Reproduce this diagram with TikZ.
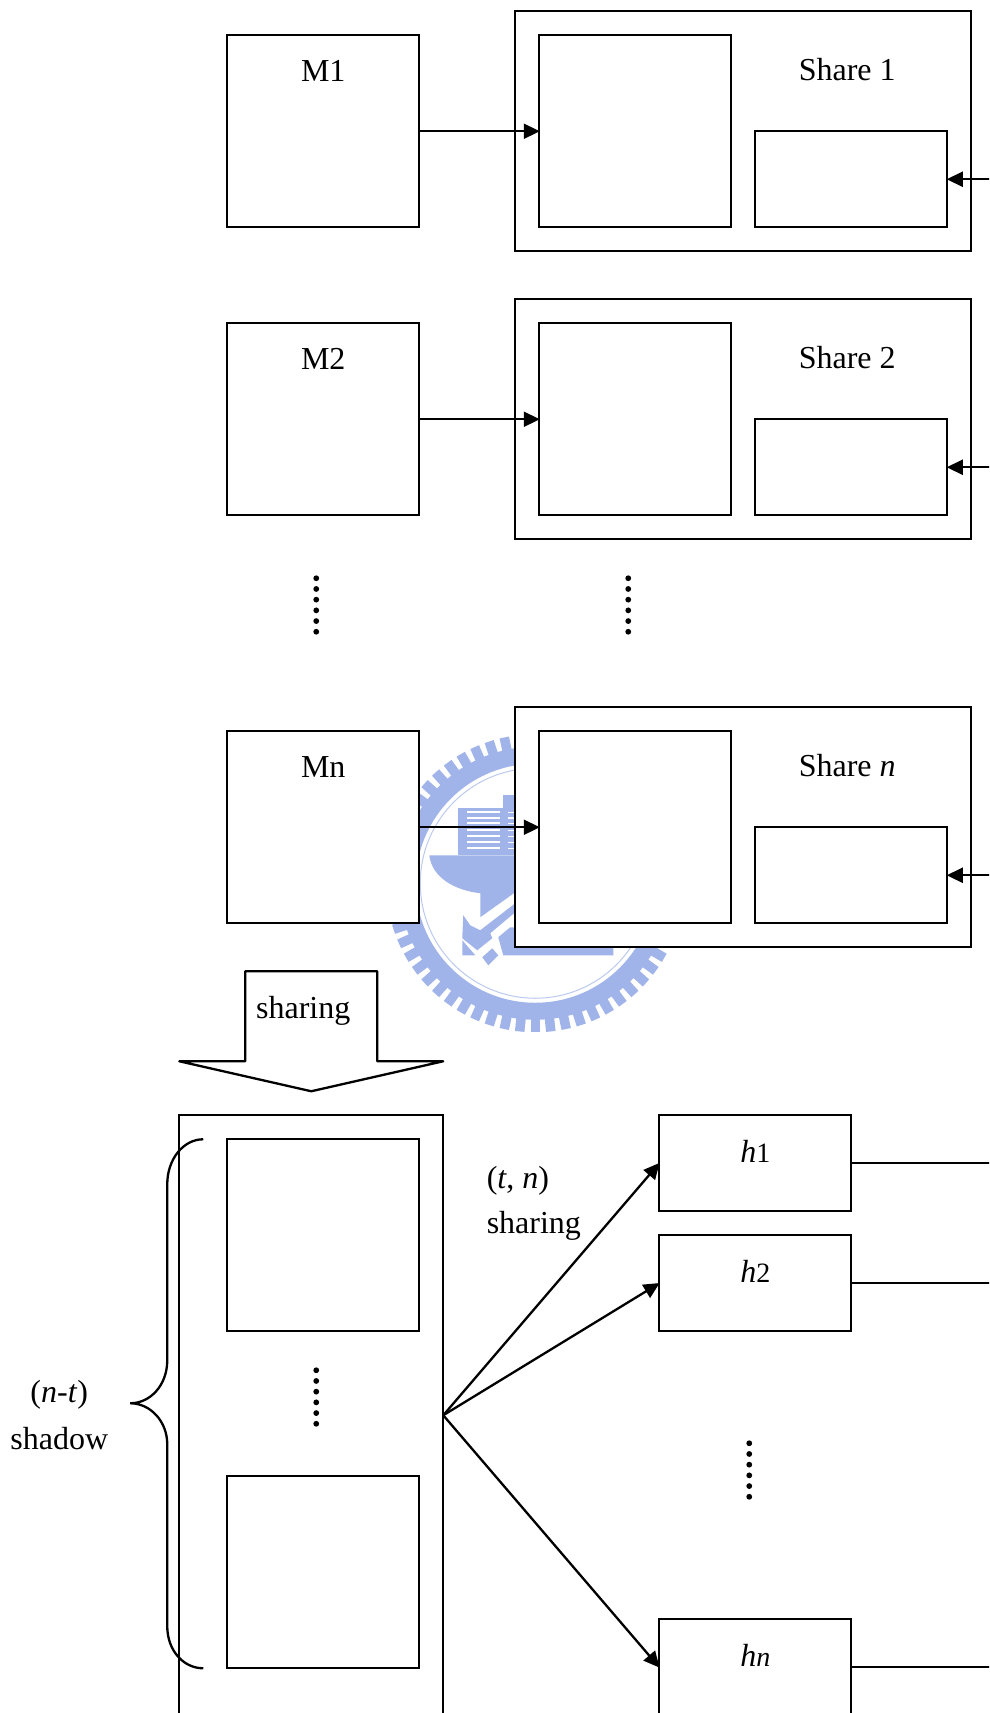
\documentclass[tikz,border=0pt]{standalone}
\usepackage{fontspec}
\setmainfont{Liberation Serif}
\usetikzlibrary{arrows.meta}
\definecolor{wm}{RGB}{160,180,233}
\tikzset{
  boxn/.style={draw=black,fill=white,line width=2.3pt,inner sep=0pt,outer sep=0pt,anchor=north west,minimum width=#1},
  boxn/.default=192pt,
  lbl/.style={inner sep=0pt,outer sep=0pt,anchor=base,font=\fontsize{32}{38}\selectfont},
  lbll/.style={lbl,anchor=base west},
  conn/.style={line width=2.3pt,draw=black},
  arr/.style={conn,-{Triangle[length=16pt,width=15pt]},shorten >=-0.5pt},
  dotc/.style={fill=black,draw=none}
}
\newcommand{\hsub}[1]{{\fontsize{28}{28}\selectfont #1}}
\begin{document}
\begin{tikzpicture}[x=1pt,y=-1pt,xshift=.25pt,yshift=-.25pt]
\clip (-0.25,-0.25) rectangle (988.75,1712.75);
\fill[white] (-0.25,-0.25) rectangle (988.75,1712.75);

% watermark
\begin{scope}
  \foreach \a in {0,6,...,354} \draw[wm,line width=9.5pt] (535,883)++(\a:133) -- ++(\a:16);
  \draw[wm,line width=17pt] (535,883) circle[radius=128];
  \draw[wm!70,line width=1pt] (535,883) circle[radius=115];
  \fill[wm] (458,808) rectangle (515,855);
  \fill[wm] (503,795) rectangle (515,808);
  \foreach \v in {812,817.5,823,830,836,842,848} {
    \draw[white,line width=2pt] (467,\v) -- (500,\v);
    \draw[white,line width=1.5pt] (508,\v) -- (515,\v);
  }
  \fill[wm] (429,855) .. controls (432,878) and (455,890) .. (480,893) -- (480,917) -- (515,892) -- (515,855) -- cycle;
  \fill[wm] (463,915) -- (462,938) -- (477,950) -- (492,938) -- (490,933) -- (515,912) -- (515,903) -- (480,930) -- (470,925) -- cycle;
  \fill[wm] (462,940) -- (462,955) -- (475,955) -- cycle;
  \fill[wm] (482,957) -- (488,965) -- (498,955) -- (492,948) -- cycle;
  \fill[wm] (498,937) -- (510,927) -- (600,927) -- (613,947) -- (613,955) -- (503,955) -- cycle;
\end{scope}

% rows
\foreach \n/\t/\txt/\lift in {1/35/M1/46,2/323/M2/46,n/731/Mn/46.5} {
  \node[boxn,minimum height=192pt] (M\n) at (227,\t) {};
  \node[lbl] (labM\n) at (323,\t+\lift) {\txt};
  \node[boxn=456pt,minimum height=240pt] (S\n) at (515,\t-24) {};
  \node[boxn,minimum height=192pt] (I\n) at (539,\t) {};
  \node[boxn,minimum height=96pt] (K\n) at (755,\t+96) {};
  \coordinate (R\n) at (990,\t+144);
  \draw[arr] (M\n.east) -- (I\n.west);
  \draw[arr] (R\n) -- (K\n.east);
}
\node[lbl] (labS1) at (847,80.5) {Share 1};
\node[lbl] (labS2) at (847,368.5) {Share 2};
\node[lbl] (labSn) at (847,776) {Share \textit{n}};

% big arrow
\draw[line width=2.3pt,line join=round,fill=white] (245,971) -- (377,971) -- (377,1061) -- (443,1061) -- (311,1091) -- (179,1061) -- (245,1061) -- cycle;
\node[lbl] (labBig) at (303,1018) {sharing};

% lower part
\node[boxn=264pt,minimum height=600pt] (big) at (179,1115) {};
\node[boxn,minimum height=192pt] (B1) at (227,1139) {};
\node[boxn,minimum height=192pt] (B2) at (227,1476) {};
\foreach \k/\t in {h1/1115,h2/1235,hn/1619} {
  \node[boxn,minimum height=96pt] (\k) at (659,\t) {};
  \coordinate (E\k) at (990,\t+48);
  \draw[conn] (\k.east) -- (E\k);
  \draw[arr] (big.east) -- (\k.west);
}
% dotted columns
\foreach \x/\y in {316/578,628/578,316/1370,749/1443}
  \foreach \k in {0,...,5}
    \fill[dotc] (\x,\y+\k*10.7) circle[radius=2.9];

\node[lbl] (lab1) at (755,1162) {\textit{h}\hsub{1}};
\node[lbl] (lab2) at (755,1282) {\textit{h}\hsub{2}};
\node[lbl] (lab3) at (755,1666) {\textit{h}\hsub{\textit{n}}};
\node[lbll] (tn) at (486.5,1188) {(\textit{t}, \textit{n})};
\node[lbll] (tn2) at (486.5,1233) {sharing};
\node[lbl] (nt) at (59,1402.5) {(\textit{n}-\textit{t})};
\node[lbl] (sh) at (59,1449) {shadow};

% brace
\draw[line width=2.3pt] (203,1139) .. controls (183,1139) and (167,1159) .. (167,1184) -- (167,1360) .. controls (167,1385) and (150,1403) .. (130,1403) .. controls (150,1403) and (167,1421) .. (167,1444) -- (167,1626) .. controls (167,1650) and (183,1668) .. (203,1668);
\end{tikzpicture}
\end{document}
